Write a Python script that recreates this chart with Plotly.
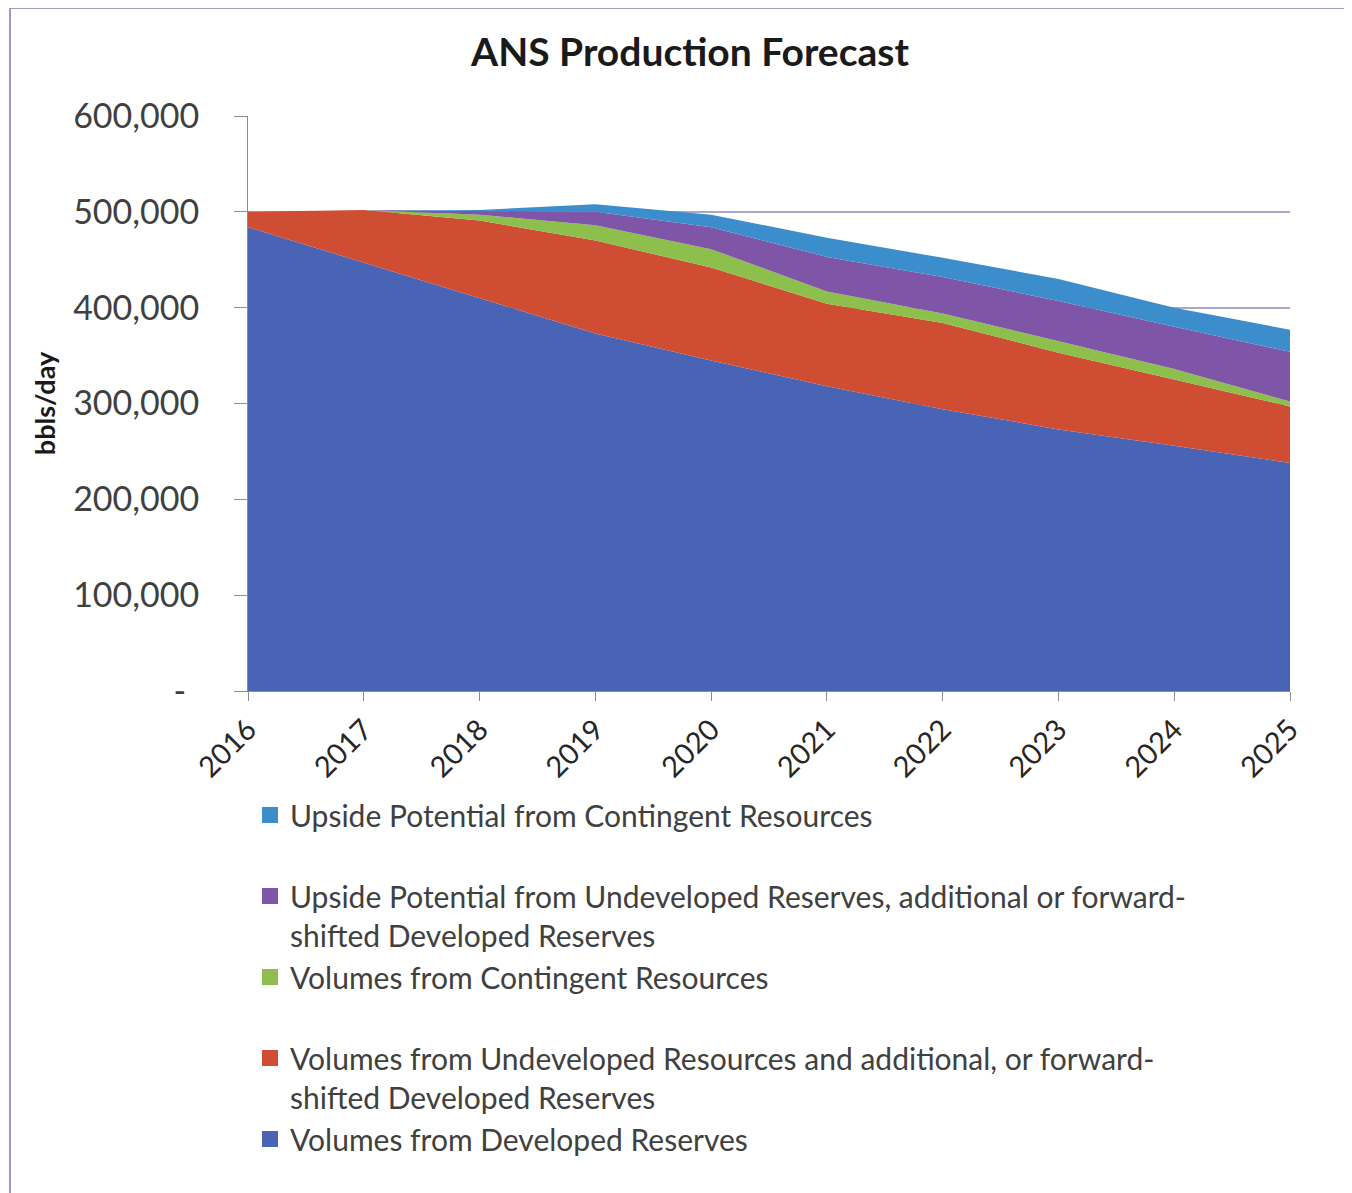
import plotly.graph_objects as go

years = [2016, 2017, 2018, 2019, 2020, 2021, 2022, 2023, 2024, 2025]

developed = [484000, 447000, 410000, 373000, 345000, 318000, 294000, 273000, 256000, 238000]
undeveloped = [16000, 55000, 81000, 97000, 97000, 86000, 90000, 80000, 69000, 59000]
contingent = [0, 0, 6000, 16000, 19000, 13000, 10000, 12000, 11000, 5000]
upside_undeveloped = [0, 0, 4000, 14000, 23000, 36000, 38000, 42000, 44000, 52000]
upside_contingent = [0, 0, 1000, 8000, 13000, 20000, 20000, 23000, 20000, 23000]

series_names = [
    "Volumes from Developed Reserves",
    "Volumes from Undeveloped Resources and additional, or forward-<br>shifted Developed Reserves",
    "Volumes from Contingent Resources<br> ",
    "Upside Potential from Undeveloped Reserves, additional or forward-<br>shifted Developed Reserves",
    "Upside Potential from Contingent Resources<br> ",
]
series_values = [developed, undeveloped, contingent, upside_undeveloped, upside_contingent]
series_colors = ["#4A64B5", "#CE4D33", "#8DBF4C", "#7F55A8", "#3B8DCC"]

ytick_vals = [0, 100000, 200000, 300000, 400000, 500000, 600000]
ytick_text = ["-\u00a0\u2009", "100,000", "200,000", "300,000", "400,000", "500,000", "600,000"]

OFF = 8  # page body margin
W, H = 1352 - OFF, 1193 - OFF
# plot area in page pixels: x 248..1290, y 116..691
L = 248 - OFF
R = W - (1290 - OFF)
T = 116 - OFF
B = H - (691 - OFF)
pw, ph = W - L - R, H - T - B


def px_x(p):  # page x -> paper
    return (p - OFF - L) / pw


def px_y(p):  # page y -> paper
    return (H - B - (p - OFF)) / ph


fig = go.Figure()
for name, vals, col in zip(series_names, series_values, series_colors):
    fig.add_trace(go.Scatter(
        x=years, y=vals, name=name, mode="lines", stackgroup="one",
        line=dict(width=0, color=col), fillcolor=col, showlegend=False,
    ))
# legend entries with square swatches
for name, col in zip(series_names, series_colors):
    fig.add_trace(go.Scatter(
        x=[None], y=[None], name=name, mode="markers",
        marker=dict(symbol="square", size=16, color=col), showlegend=True,
    ))

FONT = "Lato, 'Open Sans', sans-serif"

fig.update_layout(
    width=W, height=H,
    margin=dict(l=L, r=R, t=T, b=B, autoexpand=False),
    paper_bgcolor="white", plot_bgcolor="white",
    font=dict(family=FONT, color="#404040"),
    title=dict(text="<b>ANS Production Forecast</b>", xref="container",
               x=(690 - OFF) / W, xanchor="center",
               yref="container", y=1 - (52 - OFF) / H, yanchor="middle",
               font=dict(size=39, color="#1a1a1a", family=FONT)),
    xaxis=dict(range=[2016, 2025], tickvals=years, ticktext=[str(y) for y in years],
               tickangle=-45, tickfont=dict(size=29, color="#262626"),
               showgrid=False, zeroline=False, showline=True, linecolor="#8C8C8C",
               ticks="outside", ticklen=9, tickcolor="#8C8C8C"),
    yaxis=dict(range=[0, 600000], tickvals=ytick_vals, ticktext=ytick_text,
               tickfont=dict(size=34, color="#404040"),
               showgrid=True, gridcolor="#A7A7C9", gridwidth=1.5, zeroline=False,
               showline=True, linecolor="#8C8C8C", ticks="outside", ticklen=13,
               tickcolor="#8C8C8C", ticklabelstandoff=28,
               title=dict(text="<b>bbls/day</b>", font=dict(size=27, color="#1a1a1a"), standoff=9)),
    legend=dict(x=px_x(250), y=px_y(789), xanchor="left", yanchor="top",
                traceorder="reversed", valign="top",
                font=dict(size=30, color="#404040", family=FONT),
                bgcolor="rgba(0,0,0,0)", itemsizing="trace"),
    shapes=[
        dict(type="line", xref="paper", yref="paper", x0=px_x(10), x1=px_x(10),
             y0=px_y(8), y1=px_y(1200), line=dict(color="#9C9CC4", width=2)),
        dict(type="line", xref="paper", yref="paper", x0=px_x(10), x1=px_x(1360),
             y0=px_y(8), y1=px_y(8), line=dict(color="#9C9CC4", width=2)),
    ],
)

fig.write_html("out.html")
